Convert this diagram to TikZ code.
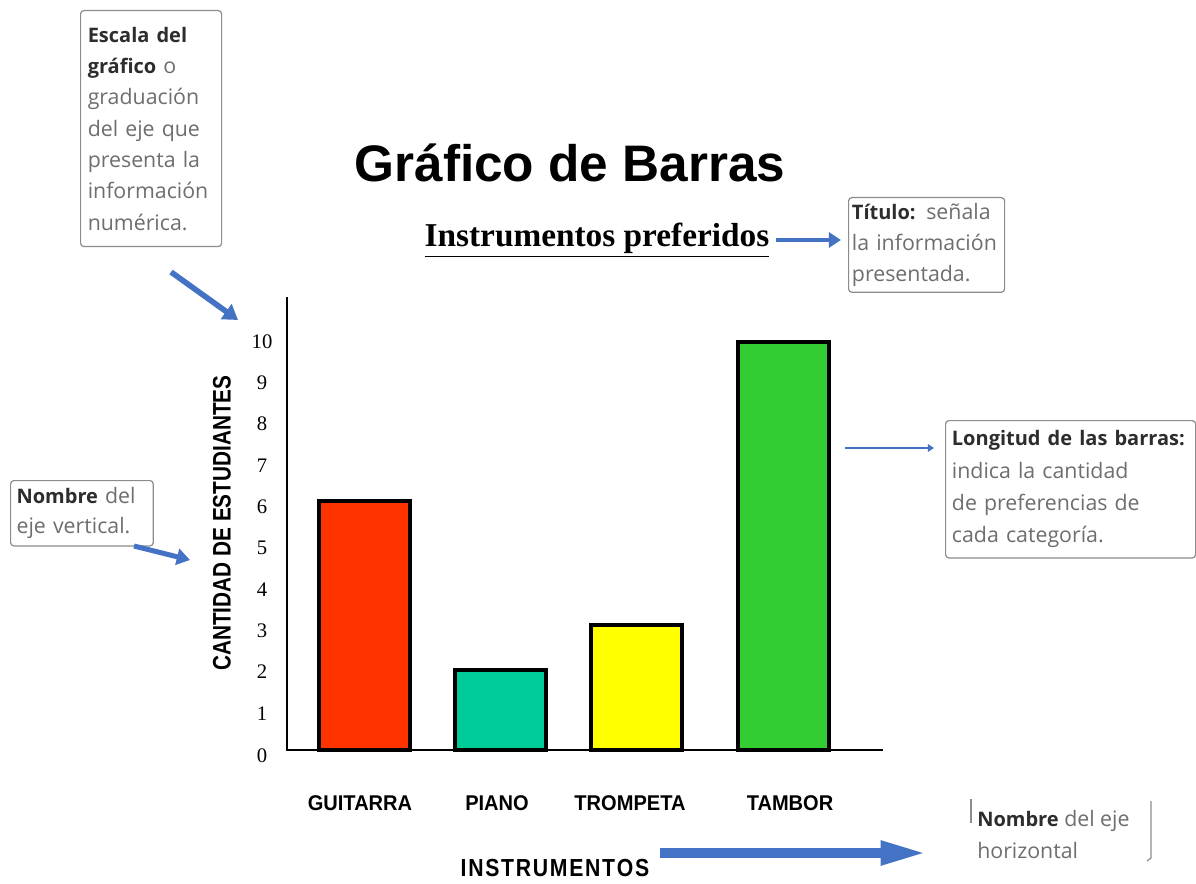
\documentclass[tikz,border=0pt]{standalone}
\usepackage{fontspec}
\setmainfont{Liberation Serif}
\newfontfamily\arialf{Liberation Sans}
\newfontfamily\callf{Open Sans}
\usetikzlibrary{arrows.meta}
\definecolor{arrowblue}{RGB}{68,114,196}
\definecolor{barred}{RGB}{255,51,0}
\definecolor{barteal}{RGB}{0,204,153}
\definecolor{baryellow}{RGB}{255,255,0}
\definecolor{bargreen}{RGB}{51,204,51}
\definecolor{calltext}{RGB}{110,110,110}
\definecolor{callbold}{RGB}{45,45,45}
\definecolor{callframe}{RGB}{140,140,140}
\tikzset{
  callout/.style={draw=callframe, line width=0.9pt, rounded corners=2.5pt, anchor=north west,
    align=left, text=calltext, inner xsep=4.5pt, inner ysep=0pt,
    font=\callf\fontsize{16}{23.5}\selectfont},
  barbox/.style={draw=black, line width=2.3pt},
  tick/.style={font=\fontsize{15.5}{17}\selectfont, anchor=center},
  catlabel/.style={font=\arialf\bfseries\fontsize{16}{18}\selectfont, anchor=center, xscale=0.94},
  bluearrow/.style={draw=arrowblue, -{Triangle[length=#1*2.6, width=#1*3.2]}, line width=#1},
}
\newcommand{\cb}[1]{{\fontsize{15}{20}\selectfont\textcolor{callbold}{\bfseries #1}}}
\begin{document}
\begin{tikzpicture}[x=0.75pt,y=-0.75pt]
\useasboundingbox[fill=white] (0,0) rectangle (1196,884);

% Title
\node[font=\arialf\bfseries\fontsize{38.5}{44}\selectfont, anchor=center] (title) at (570,163) {Gráfico de Barras};
\node[font=\bfseries\fontsize{25}{30}\selectfont, anchor=center, inner sep=0pt] (subtitle) at (597,240) {\underline{Instrumentos preferidos}};

% Callouts
\node[callout, minimum width=105.75pt, minimum height=177pt, text width=95pt] (escala) at (80,10)
  {\cb{Escala del}\\ \cb{gráfico} o\\ graduación\\ del eje que\\ presenta la\\ información\\ numérica.};
\node[callout, minimum width=116pt, minimum height=71pt, text width=112pt, inner xsep=2.5pt] (titulo) at (848,197)
  {\cb{Título:} señala\\ la información\\ presentada.};
\node[callout, minimum width=187.5pt, minimum height=103pt, text width=178pt, font=\callf\fontsize{16}{24.2}\selectfont] (longitud) at (945,420)
  {\cb{Longitud de las barras:}\\ indica la cantidad\\ de preferencias de\\ cada categoría.};
\node[callout, minimum width=107pt, minimum height=49pt, text width=98pt, font=\callf\fontsize{16}{22.5}\selectfont] (vertical) at (10,480)
  {\cb{Nombre} del\\ eje vertical.};
\node[anchor=west, align=left, text=calltext, inner sep=0pt, font=\callf\fontsize{16}{24}\selectfont] (horizontal) at (977,834)
  {\cb{Nombre} del eje\\ horizontal};
\draw[callframe, line width=0.9pt] (971,799) -- (971,823);
\draw[callframe, line width=0.9pt] (1151,801) -- (1151,858) -- (1147,861);

% Axes
\coordinate (origin) at (287,750);
\coordinate (ytop) at (287,297);
\coordinate (xend) at (883,750);
\draw[line width=1.5pt] (ytop) -- (origin) -- (xend);

% Tick labels
\foreach \k/\yy in {0/756,1/714,2/672,3/631,4/590,5/548,6/507,7/466,8/424,9/383,10/342}
  \node[tick] (t\k) at (262,\yy) {\k};

% Y-axis name
\node[font=\arialf\bfseries\fontsize{19}{21}\selectfont, rotate=90, anchor=center, xscale=0.82] (ylabel) at (222,523) {CANTIDAD DE ESTUDIANTES};

% Bars
\draw[barbox, fill=barred] (319,750) rectangle (410,501);
\draw[barbox, fill=barteal] (455,750) rectangle (546,670);
\draw[barbox, fill=baryellow] (591,750) rectangle (682,625);
\draw[barbox, fill=bargreen] (738,750) rectangle (829,342);

% Category labels
\node[catlabel] (cg) at (360,803) {GUITARRA};
\node[catlabel] (cp) at (497,803) {PIANO};
\node[catlabel] (ct) at (630,803) {TROMPETA};
\node[catlabel] (ctb) at (790,803) {TAMBOR};
\node[font=\arialf\bfseries\fontsize{18.5}{21}\selectfont, anchor=center, xscale=0.86] (xlabel) at (555,868) {I\kern1.5pt N\kern1.5pt S\kern1.5pt T\kern1.5pt R\kern1.5pt U\kern1.5pt M\kern1.5pt E\kern1.5pt N\kern1.5pt T\kern1.5pt O\kern1.5pt S};

% Arrows
\coordinate (a1s) at (776,240);
\coordinate (a1e) at (841,240);
\draw[bluearrow=3.5pt] (a1s) -- (a1e);

\coordinate (a2s) at (171,272);
\coordinate (a2e) at (238,320);
\draw[bluearrow=4.2pt] (a2s) -- (a2e);

\coordinate (a3s) at (134,546);
\coordinate (a3e) at (190,560);
\draw[bluearrow=3.8pt] (a3s) -- (a3e);

\coordinate (a4s) at (845,448);
\coordinate (a4e) at (934,448);
\draw[bluearrow=1.8pt] (a4s) -- (a4e);

\coordinate (a5s) at (660,853);
\coordinate (a5e) at (926,853);
\draw[draw=arrowblue, line width=6.8pt, -{Triangle[length=34pt, width=17pt]}] (a5s) -- (a5e);
\end{tikzpicture}
\end{document}
